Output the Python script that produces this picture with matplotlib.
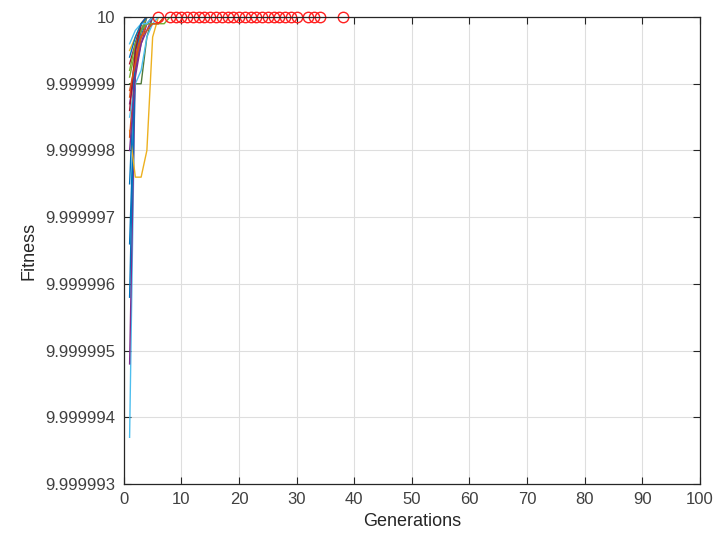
import matplotlib
matplotlib.use("Agg")
import matplotlib.pyplot as plt
from matplotlib.ticker import FuncFormatter, MultipleLocator

plt.rcParams['font.family'] = ['Liberation Sans', 'DejaVu Sans']

# Fitness per generation (starting at generation 1) for each run until convergence to 10
runs = [
    [9.9999937, 9.9999994, 9.9999998, 10.0],
    [9.9999948, 9.9999993, 9.9999999, 10.0],
    [9.9999958, 9.9999996, 9.9999999, 10.0],
    [9.9999966, 9.9999992, 9.9999997, 10.0],
    [9.9999983, 9.9999976, 9.9999976, 9.9999980, 9.9999997, 10.0],
    [9.9999990, 9.9999990, 9.9999990, 9.9999997, 10.0],
    [9.9999982, 9.9999993, 9.9999998, 10.0],
    [9.9999987, 9.9999992, 9.9999996, 9.9999999, 10.0],
    [9.9999991, 9.9999995, 9.9999998, 10.0],
    [9.9999985, 9.9999990, 9.9999992, 9.9999997, 9.9999999, 10.0],
    [9.9999993, 9.9999996, 9.9999999, 10.0],
    [9.9999975, 9.9999995, 9.9999998, 9.9999999, 10.0],
    [9.9999988, 9.9999994, 9.9999997, 9.9999999, 9.9999999, 9.9999999, 10.0],
    [9.9999995, 9.9999997, 9.9999999, 10.0],
    [9.9999980, 9.9999991, 9.9999996, 9.9999998, 10.0],
    [9.9999992, 9.9999996, 9.9999998, 9.9999999, 9.9999999, 9.9999999, 9.9999999, 10.0],
    [9.9999986, 9.9999995, 9.9999999, 10.0],
    [9.9999996, 9.9999998, 9.9999999, 9.9999999, 10.0],
    [9.9999989, 9.9999993, 9.9999997, 9.9999998, 9.9999999, 9.9999999, 10.0],
    [9.9999994, 9.9999997, 9.9999999, 10.0],
]
run_colors = ['#4DBEEE', '#7E2F8E', '#0072BD', '#0072BD', '#EDB120', '#4F7A3A',
              '#D95319', '#7E2F8E', '#77AC30', '#4DBEEE', '#A2142F', '#0072BD',
              '#D95319', '#EDB120', '#7E2F8E', '#77AC30', '#A2142F', '#4DBEEE',
              '#D95319', '#0072BD']

# Generation at which each run reached the optimum (red circles)
converged_gens = [6, 8, 9, 10, 11, 12, 13, 14, 15, 16, 17, 18, 19, 20, 21, 22, 23,
                  24, 25, 26, 27, 28, 29, 30, 32, 33, 34, 38]
optimum = 10.0
max_gen = 100

fig = plt.figure(figsize=(7.2, 5.5), dpi=100)
ax = fig.add_axes([0.172, 0.12, 0.8, 0.849])

for vals, c in zip(runs, run_colors):
    gens = list(range(1, len(vals) + 1)) + [max_gen]
    ax.plot(gens, vals + [vals[-1]], color=c, lw=1.0)

ax.plot([1, max_gen], [optimum, optimum], color='#E8321E', lw=1.2)
ax.plot(converged_gens, [optimum] * len(converged_gens), 'o', ms=7.5,
        mfc='none', mec='#FF2020', mew=1.0, clip_on=False)

ax.set_xlim(0, 100)
ax.set_ylim(9.999993, 10.0)
ax.xaxis.set_major_locator(MultipleLocator(10))
ax.set_yticks([9.999993 + i * 1e-6 for i in range(8)])
ax.yaxis.set_major_formatter(FuncFormatter(lambda v, p: '%.7g' % round(v, 6)))

ax.grid(True, color='#DEDEDE', lw=0.8)
ax.set_axisbelow(True)
ax.tick_params(direction='in', top=True, right=True, length=5, width=0.8,
               colors='#262626', labelsize=12, labelcolor='#404040', pad=6)
for s in ax.spines.values():
    s.set_color('#262626')
    s.set_linewidth(0.9)

ax.set_xlabel('Generations', fontsize=13, color='#262626', labelpad=4)
ax.set_ylabel('Fitness', fontsize=13, color='#262626', labelpad=6)

fig.savefig('out.png', dpi=100)
